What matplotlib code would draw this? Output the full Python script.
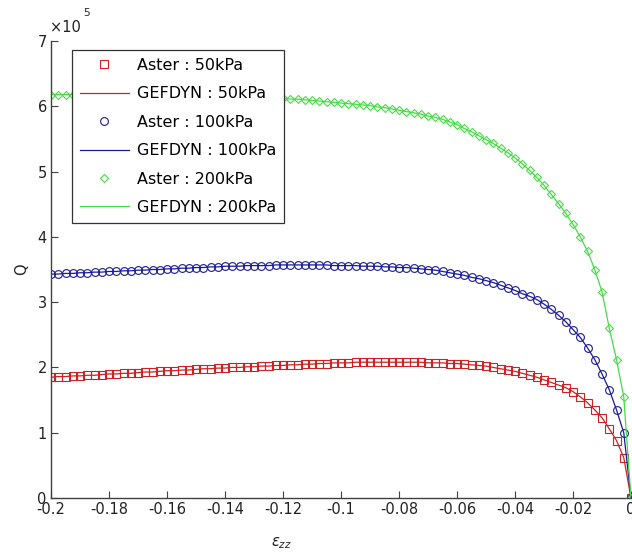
import matplotlib
matplotlib.use("Agg")
import matplotlib.pyplot as plt
import numpy as np

plt.rcParams['font.family'] = ['DejaVu Sans']
plt.rcParams['mathtext.fontset'] = 'dejavusans'

# strain grid of the Aster / GEFDYN outputs (step 0.0025)
eps_zz = np.round(np.arange(-0.2, 0.00001, 0.0025), 4)

# deviatoric stress Q, units of 1e5
q_50 = [1.85, 1.86, 1.86, 1.87, 1.87, 1.88, 1.88, 1.89, 1.90,
        1.90, 1.91, 1.91, 1.92, 1.93, 1.93, 1.94, 1.95,
        1.95, 1.96, 1.96, 1.97, 1.98, 1.98, 1.99, 1.99,
        2.00, 2.00, 2.01, 2.01, 2.02, 2.02, 2.03, 2.03,
        2.04, 2.04, 2.05, 2.05, 2.06, 2.06, 2.07, 2.07,
        2.07, 2.08, 2.08, 2.08, 2.08, 2.08, 2.08, 2.08,
        2.08, 2.08, 2.08, 2.07, 2.07, 2.07, 2.06, 2.06,
        2.05, 2.04, 2.03, 2.02, 2.00, 1.98, 1.96, 1.94,
        1.91, 1.88, 1.85, 1.81, 1.77, 1.73, 1.69, 1.63,
        1.55, 1.46, 1.35, 1.23, 1.06, 0.88, 0.62, 0.0]

q_100 = [3.43, 3.43, 3.44, 3.44, 3.45, 3.45, 3.46, 3.46, 3.47,
         3.47, 3.48, 3.48, 3.49, 3.49, 3.50, 3.50, 3.51,
         3.51, 3.52, 3.52, 3.53, 3.53, 3.54, 3.54, 3.55,
         3.55, 3.55, 3.56, 3.56, 3.56, 3.56, 3.57, 3.57,
         3.57, 3.57, 3.57, 3.57, 3.57, 3.57, 3.56, 3.56,
         3.56, 3.56, 3.55, 3.55, 3.55, 3.54, 3.54, 3.53,
         3.53, 3.52, 3.51, 3.50, 3.49, 3.47, 3.45, 3.43,
         3.41, 3.38, 3.36, 3.33, 3.30, 3.26, 3.22, 3.18,
         3.13, 3.09, 3.04, 2.97, 2.89, 2.80, 2.70, 2.58,
         2.46, 2.30, 2.12, 1.90, 1.66, 1.35, 1.00, 0.0]

q_200 = [6.18, 6.18, 6.18, 6.18, 6.18, 6.18, 6.18, 6.18, 6.18,
         6.18, 6.18, 6.18, 6.18, 6.18, 6.18, 6.18, 6.18,
         6.18, 6.18, 6.17, 6.17, 6.17, 6.17, 6.17, 6.16,
         6.16, 6.16, 6.15, 6.15, 6.14, 6.14, 6.13, 6.12,
         6.11, 6.11, 6.10, 6.09, 6.08, 6.07, 6.06, 6.05,
         6.04, 6.03, 6.02, 6.01, 5.99, 5.98, 5.96, 5.94,
         5.92, 5.90, 5.88, 5.85, 5.83, 5.80, 5.76, 5.72,
         5.66, 5.61, 5.55, 5.49, 5.43, 5.36, 5.29, 5.21,
         5.12, 5.02, 4.91, 4.79, 4.65, 4.51, 4.36, 4.19,
         4.00, 3.78, 3.50, 3.16, 2.60, 2.12, 1.55, 0.0]

# GEFDYN curves lie on top of the Aster points at this resolution
g_50, g_100, g_200 = q_50, q_100, q_200

labels = ['Aster : 50kPa', 'GEFDYN : 50kPa',
          'Aster : 100kPa', 'GEFDYN : 100kPa',
          'Aster : 200kPa', 'GEFDYN : 200kPa']
x_ticks = [-0.2, -0.18, -0.16, -0.14, -0.12, -0.1, -0.08, -0.06, -0.04, -0.02, 0]
x_ticklabels = ['-0.2', '-0.18', '-0.16', '-0.14', '-0.12', '-0.1',
                '-0.08', '-0.06', '-0.04', '-0.02', '0']
y_ticks = [0, 1, 2, 3, 4, 5, 6, 7]

red, blue, green = '#cc2222', '#1a1a9a', '#44dd44'
txt = '#222222'

fig = plt.figure(figsize=(6.32, 5.53), dpi=100)
ax = fig.add_axes([51 / 632, 1 - 498 / 553, 580 / 632, 457 / 553])

ax.plot(eps_zz, q_50, 's', color=red, mfc='none', ms=5.4, mew=0.8, label=labels[0])
ax.plot(eps_zz, g_50, '-', color=red, lw=0.9, label=labels[1])
ax.plot(eps_zz, q_100, 'o', color=blue, mfc='none', ms=5.6, mew=0.8, label=labels[2])
ax.plot(eps_zz, g_100, '-', color=blue, lw=0.9, label=labels[3])
ax.plot(eps_zz, q_200, 'D', color=green, mfc='none', ms=4.4, mew=0.8, label=labels[4])
ax.plot(eps_zz, g_200, '-', color=green, lw=0.9, label=labels[5])

ax.set_xlim(-0.2, 0)
ax.set_ylim(0, 7)
ax.set_xticks(x_ticks)
ax.set_xticklabels(x_ticklabels)
ax.set_yticks(y_ticks)

# MATLAB-style exponent above the y axis
fig.text(50 / 632, 1 - 28 / 553, '\u00d710', fontsize=10.5, color=txt,
         ha='left', va='center')
fig.text(83 / 632, 1 - 13 / 553, '5', fontsize=7.5, color=txt,
         ha='left', va='center')

for s in ['top', 'right']:
    ax.spines[s].set_visible(False)
for s in ['left', 'bottom']:
    ax.spines[s].set_color('#404040')
    ax.spines[s].set_linewidth(1.0)
ax.tick_params(direction='in', length=5, width=0.8, color='#404040',
               labelsize=10.5, labelcolor=txt)
ax.tick_params(axis='x', pad=3)
ax.tick_params(axis='y', pad=3)

ax.set_xlabel(r'$\varepsilon_{zz}$', fontsize=10.5, color=txt)
ax.xaxis.set_label_coords((281 - 51) / 580, -0.082)
ax.set_ylabel('Q', fontsize=10.5, color=txt, labelpad=6)

leg = ax.legend(loc='upper left', bbox_to_anchor=(72 / 632, 1 - 50 / 553),
                bbox_transform=fig.transFigure, borderaxespad=0,
                fontsize=11.5, handlelength=3.05, handletextpad=0.5,
                labelspacing=0.84, borderpad=0.5, fancybox=False,
                framealpha=1, edgecolor='#333333')
leg.get_frame().set_linewidth(0.9)

fig.savefig('out.png', dpi=100)
